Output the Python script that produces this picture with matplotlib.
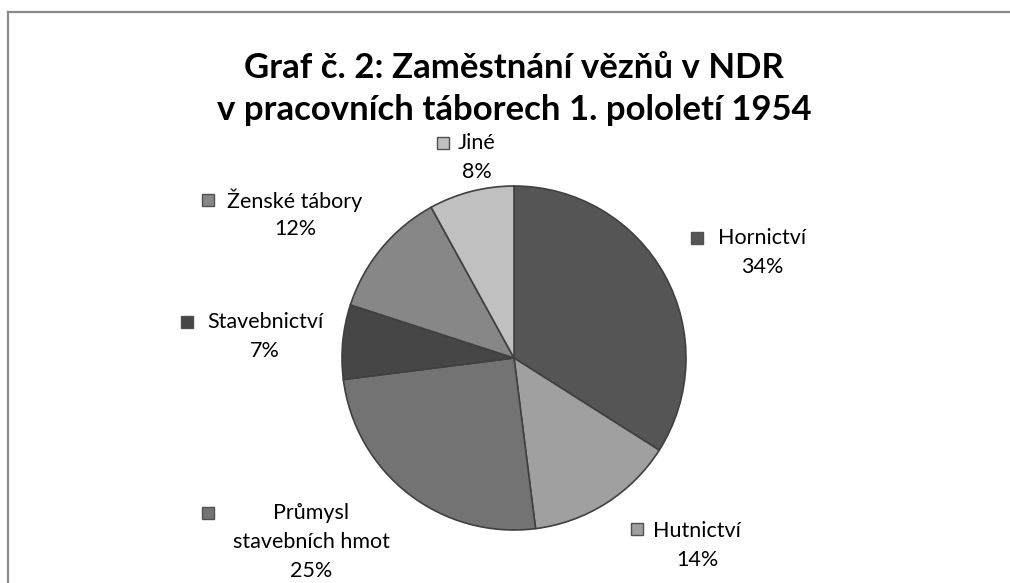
import matplotlib
matplotlib.use('Agg')
import matplotlib.pyplot as plt
from matplotlib.patches import Rectangle

plt.rcParams['font.family'] = ['Lato', 'DejaVu Sans']

TITLE = 'Graf č. 2: Zaměstnání vězňů v NDR\nv pracovních táborech 1. pololetí 1954'
CATEGORIES = ['Hornictví', 'Hutnictví', 'Průmysl\nstavebních hmot',
              'Stavebnictví', 'Ženské tábory', 'Jiné']
SHARES = [34, 14, 25, 7, 12, 8]
COLORS = ['#555555', '#a0a0a0', '#737373', '#464646', '#878787', '#c0c0c0']

# layout in pixels (top-down): marker x, marker y, text centre x, first line y
W, H = 1010, 583
LABEL_POS = [
    (697, 238, 762, 238),
    (637, 529, 697, 531),
    (208, 513, 311, 513),
    (187, 322, 265, 322),
    (208, 200, 295, 200),
    (443, 143, 477, 143),
]
LINE_H = 29
PIE_CX, PIE_CY, PIE_R = 514, 358, 172


def Y(y):
    return H - y


fig = plt.figure(figsize=(W / 100, H / 100), dpi=100)
ax = fig.add_axes([0, 0, 1, 1])

ax.pie(SHARES, colors=COLORS, startangle=90, counterclock=False,
       center=(PIE_CX, Y(PIE_CY)), radius=PIE_R,
       wedgeprops=dict(edgecolor='#404040', linewidth=1.2))
ax.set_xlim(0, W)
ax.set_ylim(0, H)
ax.set_aspect('equal')
ax.axis('off')

ax.text(514, Y(89), TITLE, ha='center', va='center', fontsize=25,
        fontweight='bold', linespacing=1.35, color='black')

for name, share, col, (mx, my, tx, ty) in zip(CATEGORIES, SHARES, COLORS, LABEL_POS):
    ax.add_patch(Rectangle((mx - 6, Y(my) - 6), 12, 12, facecolor=col,
                           edgecolor='#505050', linewidth=1.0))
    lines = name.split('\n') + [f'{share}%']
    for i, ln in enumerate(lines):
        ax.text(tx, Y(ty + i * LINE_H), ln, ha='center', va='center',
                fontsize=15.5, color='black')

# chart frame (only top and left edges are visible in the crop)
ax.plot([8, W], [Y(12), Y(12)], color='#8a8a8a', lw=1.6, clip_on=False)
ax.plot([8, 8], [Y(12), 0], color='#8a8a8a', lw=1.6, clip_on=False)

fig.savefig('out.png', dpi=100, facecolor='white')
